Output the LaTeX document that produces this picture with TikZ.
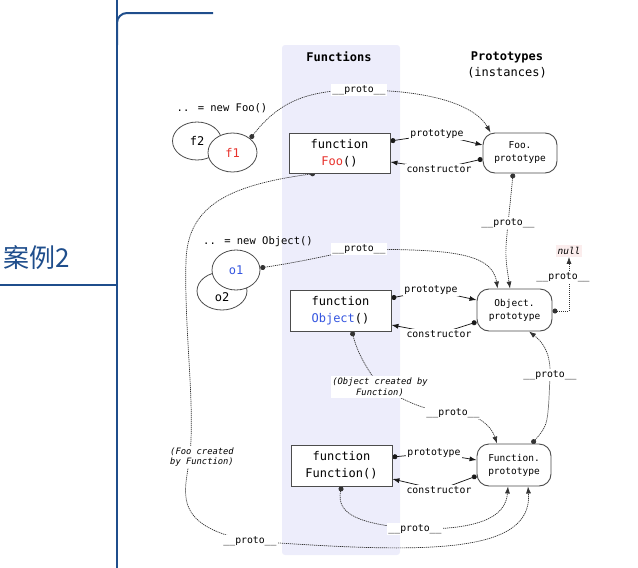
\documentclass[tikz,border=0pt]{standalone}
\usepackage{fontspec}
\newfontfamily\mono{DejaVu Sans Mono}
\newfontfamily\cjk{Noto Sans CJK SC}
\usetikzlibrary{arrows.meta,shapes.geometric,calc}
\pgfdeclarelayer{back}
\pgfdeclarelayer{lines}
\pgfsetlayers{back,lines,main}
\definecolor{lav}{HTML}{EDEDFB}
\definecolor{frame}{HTML}{1F4E8C}
\definecolor{fred}{HTML}{E8322C}
\definecolor{oblue}{HTML}{3556E0}
\definecolor{nullbg}{HTML}{FBEDED}
\begin{document}
\begin{tikzpicture}[x=1pt,y=-1pt,
  fnbox/.style={draw=black!70, line width=0.9pt, fill=white, minimum width=101pt, minimum height=40pt, inner sep=0pt, align=center, font=\mono\fontsize{12}{17}\selectfont},
  protobox/.style={draw=black!70, line width=0.9pt, fill=white, rounded corners=12pt, minimum width=74pt, minimum height=41pt, inner sep=0pt, align=center, font=\mono\fontsize{9.5}{13}\selectfont},
  inst/.style={ellipse, draw=black!70, line width=0.8pt, fill=white, minimum width=49pt, minimum height=39pt, inner sep=0pt, font=\mono\fontsize{12}{14}\selectfont},
  lbl/.style={fill=white, inner sep=1.5pt, font=\mono\fontsize{9.8}{11}\selectfont},
  note/.style={fill=white, inner sep=1.5pt, font=\mono\itshape\fontsize{8.8}{10.5}\selectfont},
  plain/.style={font=\mono\fontsize{10.5}{12}\selectfont},
  head/.style={font=\mono\fontsize{12}{14}\selectfont},
  solidc/.style={draw=black!90, line width=0.75pt, {Circle[length=5pt]}-{Latex[length=7pt,width=5pt]}},
  dashc/.style={draw=black!80, line width=0.7pt, dash pattern=on 1.2pt off 0.8pt, {Circle[length=5pt]}-{Latex[length=7pt,width=5pt]}},
  framel/.style={draw=frame, line width=2pt},
]
\useasboundingbox (0,0) rectangle (638,568);

% frame
\draw[framel] (117,0) -- (117,568);
\draw[framel, rounded corners=10pt] (117,45) -- (117,13) -- (213,13);
\draw[framel] (0,285) -- (117,285);
\node[text=frame, font=\cjk\fontsize{26}{30}\selectfont] (case) at (37,258) {案例2};

% column
\begin{pgfonlayer}{back}
\fill[lav, rounded corners=3pt] (282,45) rectangle (400,555);
\end{pgfonlayer}

% headings
\node[head, font=\mono\bfseries\fontsize{12}{14}\selectfont] (hf) at (339,57) {Functions};
\node[head, font=\mono\bfseries\fontsize{12}{14}\selectfont] (hp) at (507,57) {Prototypes};
\node[head] (hi) at (507,73) {(instances)};

% functions
\node[fnbox] (foo) at (339.5,153) {function\\\textcolor{fred}{Foo}()};
\node[fnbox, minimum height=41pt] (obj) at (340.5,310.5) {function\\\textcolor{oblue}{Object}()};
\node[fnbox, minimum height=41pt] (fun) at (341.5,465.5) {function\\Function()};

% prototypes
\node[protobox, minimum height=40pt] (fooP) at (520,153) {Foo.\\prototype};
\node[protobox, minimum width=75pt, minimum height=42pt] (objP) at (514.5,310) {Object.\\prototype};
\node[protobox, minimum height=42pt] (funP) at (514,465) {Function.\\prototype};

% instances
\node[plain] (newfoo) at (222,108) {.. = new Foo()};
\node[plain] (newobj) at (258,242) {.. = new Object()};
\node[inst, minimum height=38pt] (f2) at (197,141) {f2};
\node[inst] (f1) at (232.5,152.5) {\textcolor{fred}{f1}};
\node[inst, minimum width=50pt, minimum height=38pt, label={[yshift=-6pt, font=\mono\fontsize{12}{14}\selectfont]center:o2}] (o2) at (222,291) {};
\node[inst, minimum width=48pt, minimum height=40pt] (o1) at (236,270) {\textcolor{oblue}{o1}};

\node[fill=nullbg, inner sep=2pt, font=\mono\itshape\fontsize{9.5}{11}\selectfont] (nul) at (569,251) {null};

% connector labels
\node[lbl] (p1) at (359,90) {\_\_proto\_\_};
\node[lbl] (pr1) at (437,134) {prototype};
\node[lbl] (co1) at (439,169) {constructor};
\node[lbl] (pp4) at (508,223) {\_\_proto\_\_};
\node[lbl] (pp5) at (359,249) {\_\_proto\_\_};
\node[lbl] (pr2) at (431,290) {prototype};
\node[lbl] (co2) at (439,334) {constructor};
\node[lbl] (pp8) at (563,277) {\_\_proto\_\_};
\node[lbl] (pp9) at (550,375) {\_\_proto\_\_};
\node[note, align=center] (lab10) at (380,387) {(Object created by\\Function)};
\node[lbl] (pp10) at (453,413) {\_\_proto\_\_};
\node[lbl] (pr3) at (434,453) {prototype};
\node[lbl] (co3) at (439,490) {constructor};
\node[lbl] (pp13) at (415,529) {\_\_proto\_\_};
\node[note, align=left] (lab14) at (202,457) {(Foo created\\by Function)};
\node[lbl] (pp14) at (250,541) {\_\_proto\_\_};

\coordinate (w1) at (186,260);
\coordinate (w2) at (190,455);

\begin{pgfonlayer}{lines}
\draw[dashc] (f1.38) .. controls (280,100) and (310,90) .. (p1.center) .. controls (430,90) and (475,105) .. ($(fooP.north west)+(8,0)$);
\draw[solidc] ($(foo.east)+(0,-12)$) -- (pr1.center) -- ($(fooP.west)+(0,-8)$);
\draw[solidc] ($(fooP.west)+(0,6)$) -- (co1.center) -- ($(foo.east)+(0,9)$);
\draw[dashc] ($(fooP.south)+(-7,0)$) .. controls (511,195) .. (pp4.center) .. controls (505,255) .. ($(objP.north)+(-4.5,0)$);
\draw[dashc] (o1.5) .. controls (300,262) and (330,255) .. (pp5.center) .. controls (440,250) and (492,250) .. ($(objP.north west)+(21,0)$);
\draw[solidc] ($(obj.east)+(0,-12.5)$) -- (pr2.center) -- ($(objP.west)+(0,-10)$);
\draw[solidc] ($(objP.west)+(0,12)$) -- (co2.center) -- ($(obj.east)+(0,14.5)$);
\draw[dashc] ($(objP.east)+(0,1)$) -| (nul.south);
\draw[dashc] ($(funP.north)+(18,0)$) .. controls (548,425) .. (pp9.center) .. controls (551,350) and (540,340) .. ($(objP.south)+(14.5,0)$);
\draw[dashc] ($(obj.south)+(11.5,0)$) .. controls (358,355) and (368,370) .. (lab10.center) .. controls (405,400) and (420,410) .. (pp10.center) .. controls (480,413) and (492,428) .. ($(funP.north)+(-17,0)$);
\draw[solidc] ($(fun.east)+(0,-8.5)$) -- (pr3.center) -- ($(funP.west)+(0,-5)$);
\draw[solidc] ($(funP.west)+(0,11)$) -- (co3.center) -- ($(fun.east)+(0,13.5)$);
\draw[dashc] (fun.south) .. controls (336,515) and (360,524) .. (pp13.center) .. controls (490,530) and (506,512) .. ($(funP.south)+(-6,0)$);
\draw[dashc] ($(foo.south)+(-24.5,0)$) .. controls (230,185) and (188,205) .. (w1) .. controls (184,330) and (195,400) .. (w2) .. controls (186,490) and (168,525) .. (pp14.center) .. controls (420,553) and (533,556) .. ($(funP.south)+(14,0)$);
\end{pgfonlayer}
\end{tikzpicture}
\end{document}
